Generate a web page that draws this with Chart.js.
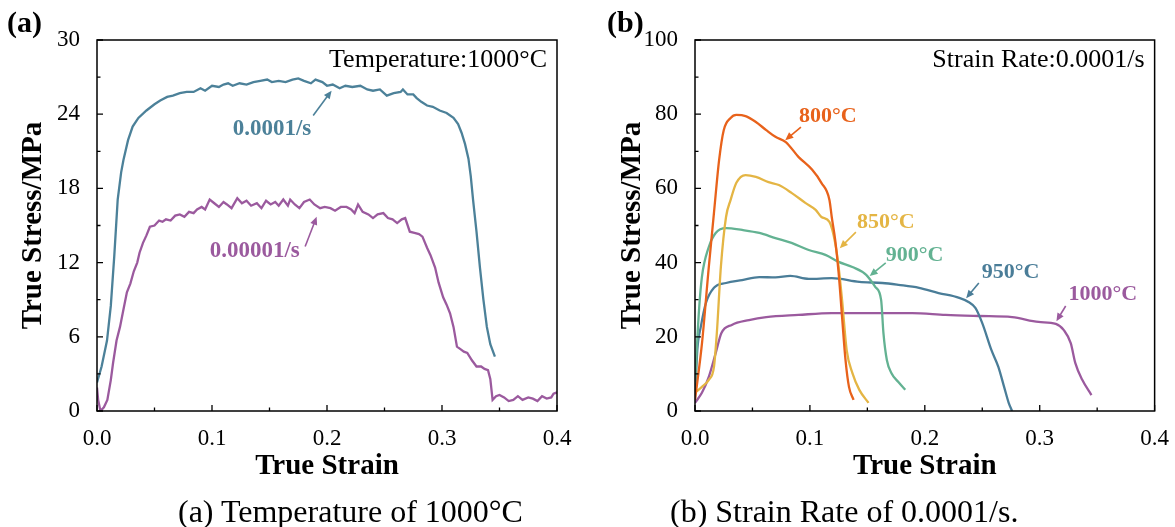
<!DOCTYPE html>
<html>
<head>
<meta charset="utf-8">
<script src="https://cdn.jsdelivr.net/npm/chart.js@4.4.0/dist/chart.umd.min.js"></script>
<style>
  html, body { margin: 0; padding: 0; background: #fff; }
  #wrap { position: relative; width: 1175px; height: 527px; overflow: hidden; background: #fff; font-family: "Liberation Serif", "Times New Roman", serif; }
  canvas { position: absolute; top: 0; }
  .lbl { position: absolute; white-space: nowrap; color: #000; line-height: 1; }
</style>
</head>
<body>
<div id="wrap">
  <canvas id="ca" width="595" height="527" style="left:0px"></canvas>
  <canvas id="cb" width="577" height="527" style="left:598px"></canvas>
  <div class="lbl" style="left:7px; top:7px; font-size:30px; font-weight:bold;">(a)</div>
  <div class="lbl" style="left:607px; top:7px; font-size:30px; font-weight:bold;">(b)</div>
  <div class="lbl" id="capA" style="left:178px; top:495px; font-size:32px;">(a) Temperature of 1000°C</div>
  <div class="lbl" id="capB" style="left:670px; top:495px; font-size:32px;">(b) Strain Rate of 0.0001/s.</div>
</div>
<script>
// ---------------- DATA ----------------
const strainTicks = [0, 0.1, 0.2, 0.3, 0.4];
const stressTicksA = [0, 6, 12, 18, 24, 30];
const stressTicksB = [0, 20, 40, 60, 80, 100];

// Panel (a): temperature 1000°C
const rateLabelsA = ["0.0001/s", "0.00001/s"];
const rateA1 = [[0,2.3],[0.004,3.6],[0.0087,5.7],[0.012,8.5],[0.015,12.5],[0.018,17.1],[0.021,19.3],[0.023,20.3],[0.027,21.9],[0.031,23.0],[0.036,23.7],[0.043,24.3],[0.05,24.8],[0.055,25.1],[0.061,25.4],[0.066,25.5],[0.072,25.7],[0.078,25.8],[0.084,25.8],[0.09,26.1],[0.094,25.9],[0.1,26.3],[0.106,26.2],[0.11,26.4],[0.114,26.5],[0.118,26.3],[0.124,26.5],[0.13,26.4],[0.136,26.6],[0.142,26.7],[0.148,26.8],[0.152,26.6],[0.158,26.7],[0.164,26.6],[0.17,26.8],[0.175,26.9],[0.18,26.7],[0.186,26.5],[0.19,26.8],[0.196,26.6],[0.2,26.3],[0.205,26.4],[0.211,26.1],[0.216,26.3],[0.222,26.2],[0.229,26.3],[0.235,26.0],[0.24,25.9],[0.246,26.0],[0.252,25.5],[0.258,25.7],[0.264,25.8],[0.266,26.0],[0.27,25.6],[0.275,25.6],[0.278,25.3],[0.282,25.0],[0.287,24.7],[0.292,24.6],[0.298,24.3],[0.304,24.1],[0.31,23.7],[0.314,23.2],[0.317,22.5],[0.32,21.6],[0.323,20.4],[0.325,19.0],[0.327,17.1],[0.33,14.5],[0.333,11.6],[0.336,9.0],[0.339,6.8],[0.342,5.4],[0.346,4.4]];
const rateA2 = [[0,1.9],[0.001,0.9],[0.003,0],[0.006,0.3],[0.009,0.9],[0.012,2.5],[0.014,3.9],[0.017,5.7],[0.02,6.8],[0.023,8.2],[0.026,9.6],[0.029,10.3],[0.032,11.3],[0.035,12.0],[0.037,12.8],[0.04,13.6],[0.043,14.2],[0.046,14.9],[0.05,15.0],[0.054,15.4],[0.057,15.3],[0.06,15.5],[0.064,15.4],[0.068,15.8],[0.072,15.9],[0.076,15.7],[0.08,16.1],[0.084,16.0],[0.087,16.3],[0.091,16.5],[0.094,16.3],[0.098,17.1],[0.102,16.8],[0.106,16.5],[0.11,16.9],[0.113,16.7],[0.117,16.4],[0.122,17.2],[0.126,16.8],[0.13,17.0],[0.134,16.6],[0.139,16.8],[0.143,16.4],[0.147,17.0],[0.151,16.7],[0.155,16.9],[0.158,16.6],[0.162,17.1],[0.166,16.6],[0.168,17.1],[0.172,16.7],[0.176,16.4],[0.18,16.9],[0.185,17.1],[0.189,16.7],[0.194,16.4],[0.198,16.5],[0.203,16.4],[0.207,16.2],[0.212,16.5],[0.217,16.5],[0.221,16.3],[0.224,16.0],[0.227,16.7],[0.231,16.1],[0.236,15.9],[0.24,15.6],[0.244,15.9],[0.249,16.0],[0.253,15.6],[0.257,15.5],[0.261,15.2],[0.265,15.5],[0.268,15.6],[0.272,14.5],[0.276,14.4],[0.28,14.3],[0.283,14.1],[0.287,13.2],[0.29,12.6],[0.294,11.6],[0.297,10.4],[0.301,9.2],[0.304,8.6],[0.307,7.9],[0.31,6.8],[0.313,5.2],[0.316,5.0],[0.319,4.8],[0.322,4.7],[0.326,4.1],[0.33,3.6],[0.334,3.6],[0.337,3.4],[0.34,3.3],[0.342,2.6],[0.344,0.9],[0.347,1.2],[0.35,1.3],[0.354,1.1],[0.358,0.8],[0.362,0.9],[0.366,1.2],[0.37,0.9],[0.375,1.1],[0.379,1.0],[0.383,0.8],[0.387,1.2],[0.391,1.0],[0.395,1.1],[0.397,1.4],[0.4,1.5]];

// Panel (b): strain rate 0.0001/s
const tempLabelsB = ["800°C", "850°C", "900°C", "950°C", "1000°C"];
const temp800 = [[0,3.0],[0.006,18],[0.012,38.8],[0.0165,53.4],[0.021,67.7],[0.025,75.7],[0.031,79.0],[0.036,79.8],[0.044,79.5],[0.053,77.9],[0.062,75.7],[0.07,73.9],[0.079,72.5],[0.09,68.5],[0.102,65.0],[0.11,61.5],[0.117,56.9],[0.119,52.3],[0.122,46.1],[0.125,37.2],[0.128,25.3],[0.131,13.7],[0.134,6.5],[0.138,3.0]];
const temp850 = [[0,4.9],[0.006,6.5],[0.012,8.4],[0.0165,11.9],[0.019,21.0],[0.0225,38.8],[0.027,52.3],[0.031,56.9],[0.036,61.5],[0.044,63.6],[0.053,63.1],[0.064,61.7],[0.073,60.9],[0.084,58.8],[0.096,56.1],[0.105,54.2],[0.11,52.3],[0.117,51.0],[0.122,45.3],[0.125,38.8],[0.128,29.9],[0.132,16.4],[0.137,10.2],[0.143,5.7],[0.151,2.2]];
const temp900 = [[0,7.5],[0.0035,27.2],[0.006,36.1],[0.012,44.2],[0.018,48.0],[0.027,49.3],[0.041,48.8],[0.056,48.0],[0.07,46.6],[0.084,45.3],[0.099,43.4],[0.114,42.0],[0.125,40.2],[0.137,38.8],[0.149,36.7],[0.157,33.4],[0.162,29.9],[0.164,21.0],[0.167,13.7],[0.171,10.2],[0.177,7.8],[0.183,5.7]];
const temp950 = [[0,3.0],[0.002,16.4],[0.005,22.6],[0.0095,29.1],[0.0165,33.2],[0.027,34.5],[0.041,35.3],[0.056,36.1],[0.07,36.0],[0.083,36.4],[0.099,35.6],[0.119,35.8],[0.143,34.8],[0.163,34.5],[0.177,34.0],[0.195,33.2],[0.212,31.8],[0.23,30.5],[0.238,29.4],[0.244,27.8],[0.25,23.7],[0.258,16.4],[0.264,11.9],[0.269,6.5],[0.273,2.2],[0.276,0]];
const temp1000 = [[0,2.2],[0.006,4.9],[0.012,9.2],[0.018,15.6],[0.023,21.0],[0.032,23.2],[0.047,24.5],[0.062,25.3],[0.09,25.9],[0.119,26.4],[0.149,26.4],[0.189,26.4],[0.218,25.9],[0.247,25.6],[0.276,25.3],[0.299,24.0],[0.314,23.5],[0.321,21.8],[0.327,18.3],[0.331,12.9],[0.337,8.4],[0.345,4.3]];

// ---------------- STYLE ----------------
const FONT = '"Liberation Serif", "Times New Roman", serif';
const C_BLUE = '#4c8199';
const C_PURPLE = '#9b5a9e';
const C_ORANGE = '#e8621b';
const C_YELLOW = '#e4b544';
const C_GREEN = '#63b292';
const C_BLUE2 = '#4a7d98';

function toXY(arr) { return arr.map(p => ({x: p[0], y: p[1]})); }

function drawArrow(ctx, x1, y1, x2, y2, color) {
  const ang = Math.atan2(y2 - y1, x2 - x1);
  const hl = 8, hw = 3.6;
  ctx.save();
  ctx.strokeStyle = color; ctx.fillStyle = color; ctx.lineWidth = 1.6;
  ctx.beginPath();
  ctx.moveTo(x1, y1);
  ctx.lineTo(x2 - Math.cos(ang) * hl * 0.8, y2 - Math.sin(ang) * hl * 0.8);
  ctx.stroke();
  ctx.beginPath();
  ctx.moveTo(x2, y2);
  ctx.lineTo(x2 - Math.cos(ang) * hl - Math.sin(ang) * hw, y2 - Math.sin(ang) * hl + Math.cos(ang) * hw);
  ctx.lineTo(x2 - Math.cos(ang) * hl + Math.sin(ang) * hw, y2 - Math.sin(ang) * hl - Math.cos(ang) * hw);
  ctx.closePath();
  ctx.fill();
  ctx.restore();
}

function framePlugin(opts) {
  return {
    id: 'frame_' + opts.name,
    afterDatasetsDraw(chart) {
      const ctx = chart.ctx, a = chart.chartArea;
      const xs = chart.scales.x, ys = chart.scales.y;
      ctx.save();
      ctx.strokeStyle = '#000'; ctx.lineWidth = 1.5;
      ctx.strokeRect(a.left, a.top, a.right - a.left, a.bottom - a.top);
      ctx.lineWidth = 1.3;
      ctx.beginPath();
      opts.xMajor.forEach(v => { const p = xs.getPixelForValue(v); ctx.moveTo(p, a.bottom); ctx.lineTo(p, a.bottom - 6); });
      opts.xMinor.forEach(v => { const p = xs.getPixelForValue(v); ctx.moveTo(p, a.bottom); ctx.lineTo(p, a.bottom - 3.5); });
      opts.yMajor.forEach(v => { const p = ys.getPixelForValue(v); ctx.moveTo(a.left, p); ctx.lineTo(a.left + 6, p); });
      opts.yMinor.forEach(v => { const p = ys.getPixelForValue(v); ctx.moveTo(a.left, p); ctx.lineTo(a.left + 3.5, p); });
      ctx.stroke();
      ctx.fillStyle = '#000';
      ctx.font = '26px ' + FONT;
      ctx.textAlign = 'right'; ctx.textBaseline = 'alphabetic';
      ctx.fillText(opts.cond, a.right - 10, a.top + 27);
      opts.labels.forEach(l => {
        ctx.font = 'bold ' + l.size + 'px ' + FONT;
        ctx.fillStyle = l.color;
        ctx.textAlign = 'left'; ctx.textBaseline = 'middle';
        ctx.fillText(l.text, xs.getPixelForValue(l.x), ys.getPixelForValue(l.y));
        drawArrow(ctx, xs.getPixelForValue(l.ax1), ys.getPixelForValue(l.ay1),
                  xs.getPixelForValue(l.ax2), ys.getPixelForValue(l.ay2), l.color);
      });
      ctx.restore();
    }
  };
}

function makeChart(canvasId, datasets, yMax, yStep, yTitlePad, rightPad, plugin) {
  return new Chart(document.getElementById(canvasId), {
    type: 'line',
    data: { datasets },
    options: {
      responsive: false,
      animation: false,
      events: [],
      layout: { padding: { left: 0, top: 40, right: rightPad, bottom: 40 } },
      plugins: { legend: { display: false }, tooltip: { enabled: false } },
      elements: { point: { radius: 0 } },
      scales: {
        x: {
          type: 'linear', min: 0, max: 0.4,
          grid: { display: false }, border: { display: false },
          ticks: { stepSize: 0.1, padding: 6, color: '#000', font: { family: FONT, size: 23 },
                   callback: v => Number(v).toFixed(1), maxRotation: 0 },
          title: { display: true, text: 'True Strain', color: '#000',
                   font: { family: FONT, size: 29, weight: 'bold' }, padding: { top: 0, bottom: 3 } },
          afterFit: s => { s.height = 76; }
        },
        y: {
          type: 'linear', min: 0, max: yMax,
          grid: { display: false }, border: { display: false },
          ticks: { stepSize: yStep, padding: 9, color: '#000', font: { family: FONT, size: 23 } },
          title: { display: true, text: 'True Stress/MPa', color: '#000',
                   font: { family: FONT, size: 29, weight: 'bold' }, padding: { top: yTitlePad, bottom: 0 } },
          afterFit: s => { s.width = 97; }
        }
      }
    },
    plugins: [plugin]
  });
}

function ds(arr, color, tension) {
  return { data: toXY(arr), borderColor: color, borderWidth: 2.3, fill: false,
           tension: tension, pointRadius: 0, cubicInterpolationMode: tension ? 'monotone' : 'default' };
}

const pluginA = framePlugin({
  name: 'a', cond: 'Temperature:1000°C',
  xMajor: strainTicks, xMinor: [0.05, 0.15, 0.25, 0.35],
  yMajor: stressTicksA, yMinor: [3, 9, 15, 21, 27],
  labels: [
    { text: rateLabelsA[0], color: C_BLUE, size: 23, x: 0.118, y: 22.8, ax1: 0.188, ay1: 23.9, ax2: 0.204, ay2: 25.9 },
    { text: rateLabelsA[1], color: C_PURPLE, size: 23, x: 0.098, y: 12.9, ax1: 0.181, ay1: 13.3, ax2: 0.191, ay2: 15.7 }
  ]
});
makeChart('ca', [ds(rateA1, C_BLUE, 0), ds(rateA2, C_PURPLE, 0)], 30, 6, 16, 38, pluginA);

const pluginB = framePlugin({
  name: 'b', cond: 'Strain Rate:0.0001/s',
  xMajor: strainTicks, xMinor: [0.05, 0.15, 0.25, 0.35],
  yMajor: stressTicksB, yMinor: [10, 30, 50, 70, 90],
  labels: [
    { text: tempLabelsB[0], color: C_ORANGE, size: 22, x: 0.0904, y: 79.5, ax1: 0.0922, ay1: 76.5, ax2: 0.0785, ay2: 73.0 },
    { text: tempLabelsB[1], color: C_YELLOW, size: 22, x: 0.141, y: 50.9, ax1: 0.140, ay1: 48.2, ax2: 0.126, ay2: 43.9 },
    { text: tempLabelsB[2], color: C_GREEN, size: 22, x: 0.166, y: 42.0, ax1: 0.166, ay1: 39.9, ax2: 0.152, ay2: 36.4 },
    { text: tempLabelsB[3], color: C_BLUE2, size: 22, x: 0.2496, y: 37.5, ax1: 0.247, ay1: 34.5, ax2: 0.236, ay2: 30.4 },
    { text: tempLabelsB[4], color: C_PURPLE, size: 22, x: 0.325, y: 31.5, ax1: 0.3226, ay1: 28.3, ax2: 0.3145, ay2: 24.2 }
  ]
});
makeChart('cb', [ds(temp800, C_ORANGE, 0.3), ds(temp850, C_YELLOW, 0.3), ds(temp900, C_GREEN, 0.3),
                 ds(temp950, C_BLUE2, 0.3), ds(temp1000, C_PURPLE, 0.3)], 100, 20, 17, 19, pluginB);
</script>
</body>
</html>
